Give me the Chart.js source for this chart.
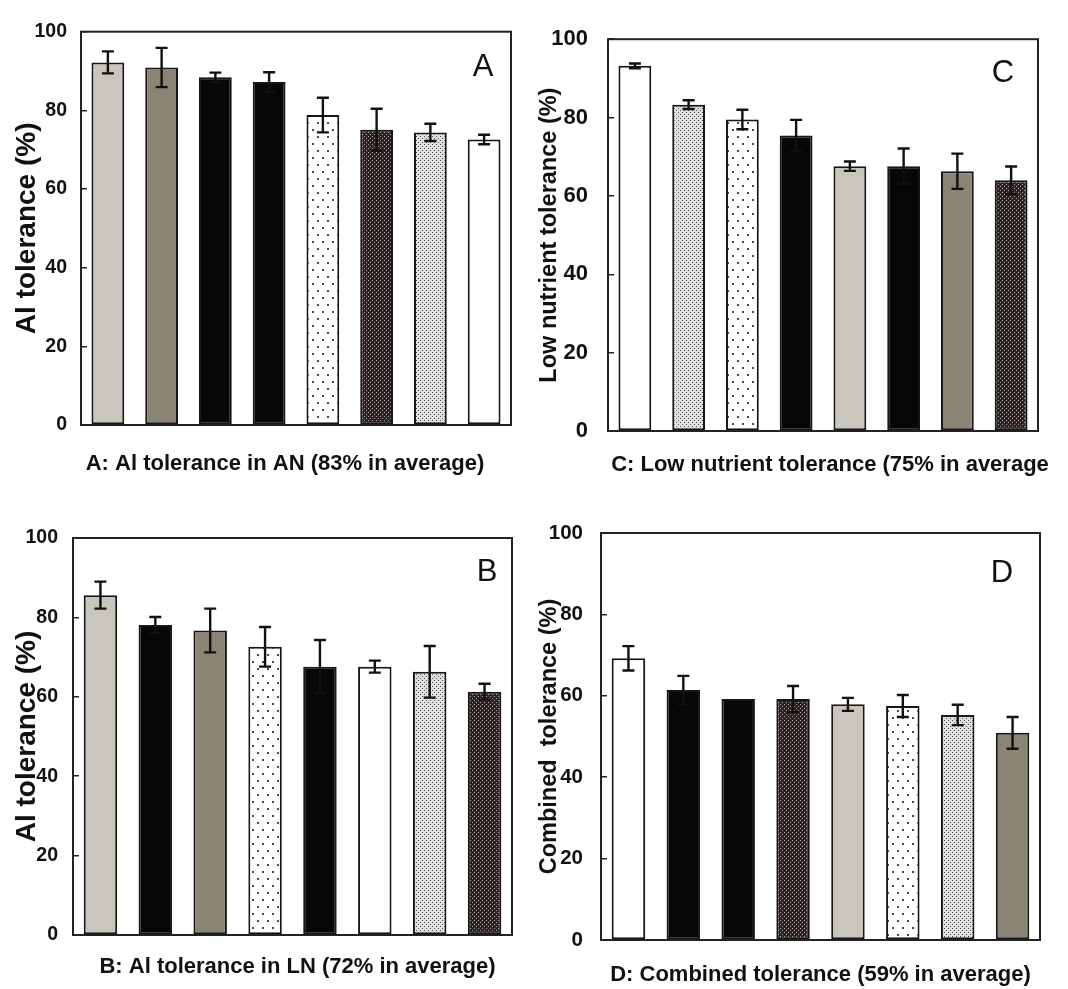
<!DOCTYPE html>
<html>
<head>
<meta charset="utf-8">
<script src="https://cdn.jsdelivr.net/npm/chart.js@4.4.1/dist/chart.umd.min.js"></script>
<style>
  html, body { margin: 0; padding: 0; background: #fff; }
  #page { position: relative; width: 1068px; height: 989px; overflow: hidden; }
  #page canvas { position: absolute; }
</style>
</head>
<body>
<div id="page">
  <canvas id="chartA" width="530" height="490" style="left:0;top:0"></canvas>
  <canvas id="chartC" width="538" height="490" style="left:530px;top:0"></canvas>
  <canvas id="chartB" width="530" height="499" style="left:0;top:490px"></canvas>
  <canvas id="chartD" width="538" height="499" style="left:530px;top:490px"></canvas>
</div>
<script>
  // bar slots (the x axis carries no labels)
  const lines = ['1', '2', '3', '4', '5', '6', '7', '8'];
  const yTicks = [0, 20, 40, 60, 80, 100];

  // A: Al tolerance in AN
  const alAN = [92.2, 90.9, 88.4, 87.2, 78.8, 75.1, 74.4, 72.6];
  const alANErr = [2.8, 5.0, 1.2, 2.5, 4.4, 5.3, 2.2, 1.2];
  const alANFill = ['gray', 'taupe', 'black', 'black', 'dots', 'darkMesh', 'lightMesh', 'white'];

  // B: Al tolerance in LN
  const alLN = [85.6, 78.1, 76.7, 72.6, 67.6, 67.6, 66.3, 61.3];
  const alLNErr = [3.4, 2.0, 5.5, 5.0, 6.7, 1.5, 6.5, 2.0];
  const alLNFill = ['gray', 'black', 'taupe', 'dots', 'black', 'white', 'lightMesh', 'darkMesh'];

  // C: low nutrient tolerance
  const lowNut = [93.2, 83.3, 79.5, 75.4, 67.6, 67.6, 66.3, 64.0];
  const lowNutErr = [0.6, 1.1, 2.5, 4.0, 1.2, 4.5, 4.5, 3.5];
  const lowNutFill = ['white', 'lightMesh', 'dots', 'black', 'gray', 'black', 'taupe', 'darkMesh'];

  // D: combined tolerance
  const combined = [69.2, 61.4, 59.2, 59.2, 57.9, 57.5, 55.3, 50.9];
  const combinedErr = [3.0, 3.5, 0, 3.2, 1.6, 2.7, 2.5, 3.9];
  const combinedFill = ['white', 'black', 'black', 'darkMesh', 'gray', 'dots', 'lightMesh', 'taupe'];

  Chart.defaults.font.family = "'Liberation Sans', Arial, Helvetica, sans-serif";
  Chart.defaults.color = '#111';

  // small repeating tiles for the stippled bars
  function tile(w, h, bg, dot, pts, size) {
    const c = document.createElement('canvas');
    c.width = w; c.height = h;
    const g = c.getContext('2d');
    g.fillStyle = bg;
    g.fillRect(0, 0, w, h);
    g.fillStyle = dot;
    pts.forEach(([x, y]) => g.fillRect(x, y, size, size));
    return c;
  }
  const tiles = {
    dots: tile(10, 14, '#ffffff', '#4a4a4a', [[2, 3], [7, 10]], 2),
    lightMesh: tile(4, 4, '#e0e0e0', '#4d4d4d', [[0, 0], [2, 2]], 1),
    darkMesh: tile(4, 4, '#2c2424', '#b0a4a2', [[0, 0], [2, 2]], 1)
  };
  const solids = { white: '#ffffff', black: '#070707', gray: '#c9c6bd', taupe: '#8a8474' };

  function fillStyle(ctx, key) {
    if (solids[key]) return solids[key];
    return ctx.createPattern(tiles[key], 'repeat');
  }

  // error bars and the box round the plot area
  const errorBars = {
    id: 'errorBars',
    afterDatasetsDraw(chart) {
      const { ctx, chartArea: a, scales: { y } } = chart;
      const ds = chart.data.datasets[0];
      const meta = chart.getDatasetMeta(0);
      ctx.save();
      ctx.strokeStyle = '#111';
      ctx.lineWidth = 2.4;
      meta.data.forEach((bar, i) => {
        const e = ds.errors[i];
        if (!e) return;
        const hi = y.getPixelForValue(ds.data[i] + e);
        const lo = y.getPixelForValue(ds.data[i] - e);
        ctx.beginPath();
        ctx.moveTo(bar.x, hi); ctx.lineTo(bar.x, lo);
        ctx.moveTo(bar.x - 6, hi); ctx.lineTo(bar.x + 6, hi);
        ctx.moveTo(bar.x - 6, lo); ctx.lineTo(bar.x + 6, lo);
        ctx.stroke();
      });
      ctx.strokeStyle = '#222';
      ctx.lineWidth = 2;
      ctx.strokeRect(a.left, a.top, a.right - a.left, a.bottom - a.top);
      ctx.restore();
    }
  };

  // panel letter in the corner and the caption under the plot
  const panelText = {
    id: 'panelText',
    afterDraw(chart, args, opts) {
      const { ctx, chartArea: a } = chart;
      ctx.save();
      ctx.fillStyle = '#111';
      ctx.textAlign = 'center';
      ctx.textBaseline = 'middle';
      ctx.font = "31px 'Liberation Sans', Arial, sans-serif";
      ctx.fillText(opts.letter, a.right + opts.letterDx, a.top + opts.letterDy);
      ctx.font = "bold 22px 'Liberation Sans', Arial, sans-serif";
      ctx.fillText(opts.caption, (a.left + a.right) / 2 + opts.captionDx, opts.captionY);
      ctx.restore();
    }
  };

  function makePanel(id, p) {
    const ctx = document.getElementById(id).getContext('2d');
    return new Chart(ctx, {
      type: 'bar',
      data: {
        labels: lines,
        datasets: [{
          data: p.values,
          errors: p.errors,
          backgroundColor: p.fills.map(f => fillStyle(ctx, f)),
          borderColor: '#161616',
          borderWidth: 2,
          borderSkipped: false,
          barPercentage: 0.61,
          categoryPercentage: 1
        }]
      },
      options: {
        responsive: false,
        animation: false,
        events: [],
        layout: { padding: { top: p.top, right: p.right, left: 0, bottom: 0 } },
        plugins: {
          legend: { display: false },
          tooltip: { enabled: false },
          panelText: {
            letter: p.letter, letterDx: p.letterDx, letterDy: p.letterDy,
            caption: p.caption, captionDx: p.captionDx, captionY: p.captionY
          }
        },
        scales: {
          x: {
            grid: { display: false },
            border: { display: false },
            ticks: { display: false },
            afterFit: s => { s.height = p.xHeight; }
          },
          y: {
            min: 0,
            max: 100,
            afterBuildTicks: s => { s.ticks = yTicks.map(v => ({ value: v })); },
            afterFit: s => { s.width = p.yWidth; },
            grid: { drawOnChartArea: false, tickLength: -6, color: '#222', lineWidth: 1.5 },
            border: { display: false },
            ticks: { padding: p.tickPad, color: '#111', font: { size: p.tickSize, weight: 'bold' } },
            title: {
              display: true,
              text: p.yTitle,
              color: '#111',
              font: { size: p.titleSize, weight: 'bold' },
              padding: { top: p.titlePad, bottom: 0 }
            }
          }
        }
      },
      plugins: [errorBars, panelText]
    });
  }

  makePanel('chartA', {
    values: alAN, errors: alANErr, fills: alANFill,
    yTitle: 'Al tolerance (%)', letter: 'A',
    caption: 'A: Al tolerance in AN (83% in average)',
    top: 21, right: 19, yWidth: 81, xHeight: 65,
    tickPad: 20, tickSize: 19.5, titleSize: 28, titlePad: 10,
    letterDx: -28, letterDy: 36, captionDx: -11, captionY: 464
  });

  makePanel('chartC', {
    values: lowNut, errors: lowNutErr, fills: lowNutFill,
    yTitle: 'Low nutrient tolerance (%)', letter: 'C',
    caption: 'C: Low nutrient tolerance (75% in average',
    top: 23, right: 30, yWidth: 78, xHeight: 59,
    tickPad: 26, tickSize: 22, titleSize: 23.5, titlePad: 5,
    letterDx: -35, letterDy: 34, captionDx: 7, captionY: 465
  });

  makePanel('chartB', {
    values: alLN, errors: alLNErr, fills: alLNFill,
    yTitle: 'Al tolerance (%)', letter: 'B',
    caption: 'B: Al tolerance in LN (72% in average)',
    top: 48, right: 18, yWidth: 73, xHeight: 54,
    tickPad: 21, tickSize: 19.5, titleSize: 28, titlePad: 10,
    letterDx: -25, letterDy: 34, captionDx: 5, captionY: 477
  });

  makePanel('chartD', {
    values: combined, errors: combinedErr, fills: combinedFill,
    yTitle: 'Combined  tolerance (%)', letter: 'D',
    caption: 'D: Combined tolerance (59% in average)',
    top: 43, right: 28, yWidth: 71, xHeight: 49,
    tickPad: 24, tickSize: 20.5, titleSize: 23.5, titlePad: 5,
    letterDx: -38, letterDy: 40, captionDx: 0, captionY: 485
  });
</script>
</body>
</html>
